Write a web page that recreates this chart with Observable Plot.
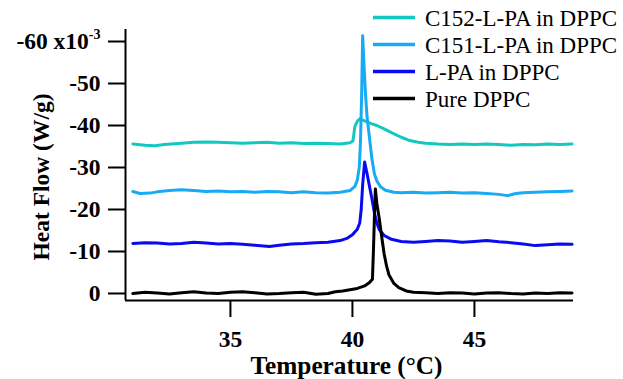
<!DOCTYPE html>
<html><head><meta charset="utf-8">
<script src="https://cdn.jsdelivr.net/npm/d3@7"></script>
<script src="https://cdn.jsdelivr.net/npm/@observablehq/plot@0.6"></script>
<style>
body{margin:0;background:#fff}
#chart{position:relative;width:623px;height:379px;overflow:hidden}
#chart svg, #chart svg text{font-family:'Liberation Serif','Times New Roman',Times,serif}
</style>
</head><body><div id="chart"></div>
<script>
// Series (legend order, top to bottom)
const seriesNames = ["C152-L-PA in DPPC", "C151-L-PA in DPPC", "L-PA in DPPC", "Pure DPPC"];
const seriesColors = ["#12c8c0", "#18aaf5", "#0a0af0", "#000000"];

// Heat flow in units of 1e-3 W/g, temperature in °C
const pureT = [31.0,31.5,32.0,32.5,33.0,33.5,34.0,34.5,35.0,35.5,36.0,36.5,37.0,37.5,38.0,38.5,39.0,39.3,39.6,39.9,40.2,40.5,40.7,40.82,40.86,40.9,40.94,41.0,41.1,41.2,41.3,41.4,41.5,41.7,41.9,42.2,42.5,43.0,43.5,44.0,44.5,45.0,45.5,46.0,46.5,47.0,47.5,48.0,48.5,49.0];
const pureV = [0.0,-0.3,-0.1,0.1,-0.2,-0.4,-0.1,0.0,-0.3,-0.4,-0.2,0.1,0.0,-0.2,-0.3,0.2,0.0,-0.4,-0.6,-0.9,-1.2,-1.8,-2.6,-3.4,-10,-18,-24.9,-21.5,-17.8,-13.5,-9.4,-6.5,-4.4,-2.4,-1.4,-0.6,-0.3,-0.2,0.0,-0.2,-0.1,0.1,-0.1,-0.2,0.0,0.1,-0.1,0.0,-0.2,-0.1];

const lpaT = [31.0,31.5,32.0,32.5,33.0,33.5,34.0,34.5,35.0,35.5,36.0,36.6,37.0,37.5,38.0,38.5,39.0,39.5,39.8,40.0,40.2,40.3,40.36,40.42,40.5,40.6,40.7,40.8,40.9,41.0,41.1,41.3,41.6,42.0,42.5,43.0,43.5,44.0,44.5,45.0,45.5,46.0,46.5,47.0,47.5,48.0,48.5,49.0];
const lpaV = [-11.9,-12.1,-12.0,-11.8,-11.9,-12.2,-12.0,-11.8,-11.9,-11.7,-11.5,-11.2,-11.5,-11.8,-11.9,-12.1,-12.2,-12.6,-13.2,-14.0,-15.3,-16.8,-20,-26,-31.3,-28.5,-25.5,-22.5,-19.2,-16.8,-15.2,-13.8,-12.9,-12.4,-12.2,-12.4,-12.6,-12.5,-12.2,-12.4,-12.6,-12.3,-12.1,-11.8,-11.4,-11.6,-11.8,-11.7];

const c151T = [31.0,31.3,31.7,32.0,32.5,33.0,33.5,34.0,34.5,35.0,35.5,36.0,36.5,37.0,37.5,38.0,38.5,39.0,39.5,39.9,40.1,40.2,40.28,40.33,40.38,40.42,40.47,40.53,40.6,40.7,40.8,40.9,41.0,41.15,41.35,41.7,42.0,42.5,43.0,43.5,44.0,44.5,45.0,45.5,46.0,46.35,46.7,47.0,47.5,48.0,48.5,49.0];
const c151V = [-24.3,-23.8,-23.9,-24.2,-24.5,-24.7,-24.5,-24.3,-24.4,-24.2,-24.3,-24.1,-24.3,-24.2,-24.0,-24.2,-24.0,-23.9,-24.1,-24.5,-25.5,-27,-30,-36,-48,-61.4,-55,-48,-42,-37,-32,-28.5,-26.8,-25.4,-24.6,-24.1,-24.0,-24.1,-23.9,-24.0,-24.1,-23.9,-24.0,-23.8,-23.6,-23.3,-23.8,-24.0,-24.1,-24.2,-24.3,-24.4];

const c152T = [31.0,31.5,31.9,32.3,33.0,33.5,34.0,34.5,35.0,35.5,36.0,36.5,37.0,37.5,38.0,38.5,39.0,39.5,39.9,40.02,40.06,40.1,40.2,40.3,40.5,40.8,41.0,41.3,41.6,42.0,42.3,42.7,43.0,43.5,44.0,44.5,45.0,45.5,46.0,46.5,47.0,47.5,48.0,48.5,49.0];
const c152V = [-35.6,-35.3,-35.2,-35.5,-35.8,-36.0,-36.1,-36.0,-35.9,-35.8,-35.9,-36.0,-35.8,-35.9,-35.7,-35.8,-35.7,-35.6,-35.9,-36.3,-38,-39.8,-41.0,-41.6,-41.1,-40.4,-40.0,-39.2,-38.3,-37.2,-36.5,-36.0,-35.8,-35.6,-35.5,-35.6,-35.5,-35.6,-35.5,-35.3,-35.5,-35.4,-35.6,-35.5,-35.6];

const xTicks = [35, 40, 45];
const yTicks = [0, -10, -20, -30, -40, -50, -60];
const yTopTickLabel = "-60 x10";
const yExponent = "-3";
const xLabel = "Temperature (°C)";
const yLabel = "Heat Flow (W/g)";
const xDomain = [30.7, 49.06];
const yDomain = [1.67, -62.86];

// Build table (drawing order: C152, C151, L-PA, Pure)
const sets = [[c152T, c152V, 0], [c151T, c151V, 1], [lpaT, lpaV, 2], [pureT, pureV, 3]];
const rows = [];
sets.forEach(([T, V, k]) => T.forEach((t, i) => rows.push({series: seriesNames[k], t, v: V[i]})));

const serif = "Liberation Serif";

const plot = Plot.plot({
  width: 623, height: 379,
  marginLeft: 125, marginRight: 50, marginTop: 29, marginBottom: 79,
  style: {background: "#fff", color: "#000"},
  x: {domain: xDomain},
  y: {domain: yDomain},
  color: {domain: seriesNames, range: seriesColors},
  marks: [
    Plot.line(rows, {x: "t", y: "v", z: "series", stroke: "series", strokeWidth: 3, strokeLinejoin: "round", strokeLinecap: "round"}),
    Plot.ruleX([xDomain[0]], {stroke: "#000", strokeWidth: 2}),
    Plot.ruleY([yDomain[0]], {stroke: "#000", strokeWidth: 2}),
    Plot.axisY({ticks: yTicks, tickSize: 17, tickPadding: 8, strokeWidth: 2, fontSize: 23.5, fontWeight: "bold", fontFamily: serif,
      tickFormat: d => d === -60 ? yTopTickLabel : String(d), label: null}),
    Plot.axisX({ticks: xTicks, tickSize: 17, tickPadding: 13, strokeWidth: 2, fontSize: 23.5, fontWeight: "bold", fontFamily: serif,
      tickFormat: d => String(d), label: null}),
    Plot.text([xLabel], {text: d => d, frameAnchor: "bottom", textAnchor: "middle", lineAnchor: "top", dx: -3, dy: 56, fontSize: 25.3, fontWeight: "bold", fontFamily: serif}),
    Plot.text([yLabel], {text: d => d, frameAnchor: "left", textAnchor: "middle", rotate: -90, lineAnchor: "middle", dx: -84, dy: 12, fontSize: 23.5, fontWeight: "bold", fontFamily: serif})
  ]
});

document.getElementById("chart").appendChild(plot);

const svg = d3.select(plot);
// force tick label typography
svg.selectAll('g[aria-label="y-axis tick label"], g[aria-label="x-axis tick label"]')
  .style("font-size", "23.5px").style("font-weight", "bold").style("font-family", "'Liberation Serif', serif");
svg.selectAll('g[aria-label="y-axis tick label"] text, g[aria-label="x-axis tick label"] text')
  .style("font-size", "23.5px").style("font-weight", "bold").style("font-family", "'Liberation Serif', serif");
// superscript exponent on top tick label
svg.selectAll("text").filter(function() { return this.textContent === yTopTickLabel; })
  .append("tspan").style("font-size", "14px").attr("dy", "-0.75em").text(yExponent);

// legend
const lg = svg.append("g").attr("font-family", serif).attr("font-size", 23).attr("text-anchor", "start");
seriesNames.forEach((name, i) => {
  const cy = 17.5 + i * 27;
  lg.append("line").attr("x1", 373).attr("x2", 415).attr("y1", cy).attr("y2", cy)
    .attr("stroke", seriesColors[i]).attr("stroke-width", 3.5);
  lg.append("text").attr("x", 425).attr("y", cy).attr("dy", "0.36em").attr("fill", "#000").text(name);
});
</script>
</body></html>
